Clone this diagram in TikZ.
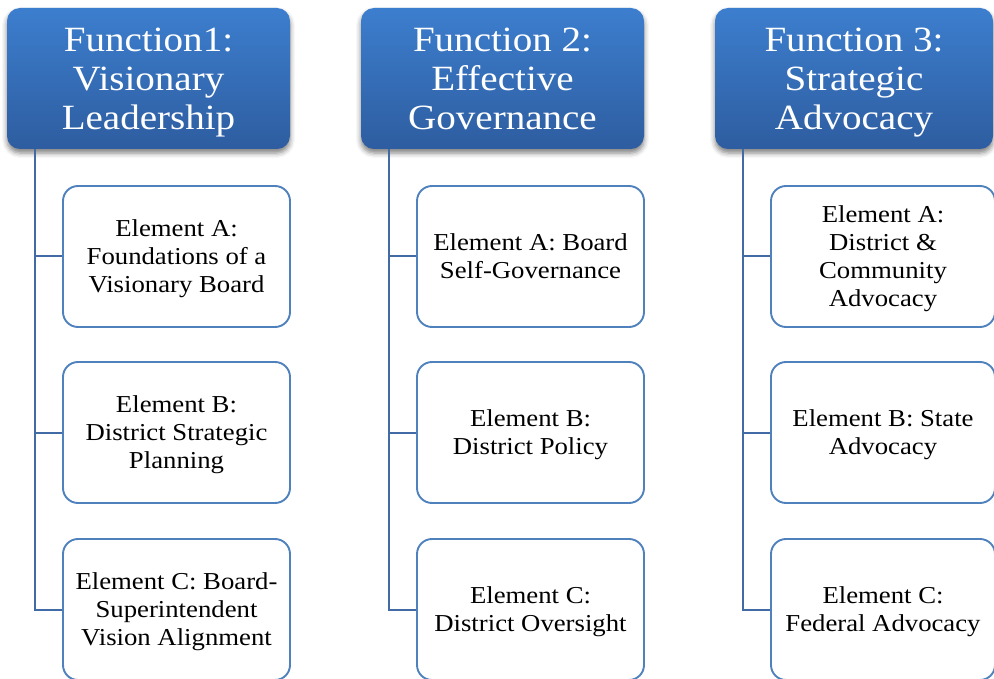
\documentclass[tikz,border=0pt]{standalone}
\usepackage{fontspec}
\setmainfont{Liberation Serif}[FakeStretch=1.1]
\usetikzlibrary{shadows.blur}

\definecolor{headtop}{RGB}{60,126,206}
\definecolor{headbot}{RGB}{46,93,160}
\definecolor{boxline}{RGB}{79,129,189}
\definecolor{connline}{RGB}{66,107,165}

% Fixed-height struts so every text block sits at the same level
\newcommand\headtopstrut{\rule{0pt}{35.5pt}}
\newcommand\elemtopstrut{\rule{0pt}{24pt}}

\tikzset{
  funchead/.style={rectangle, rounded corners=13pt, top color=headtop, bottom color=headbot,
    draw=none, minimum height=141pt, text=white, align=center, inner sep=2pt,
    font=\fontsize{35.5}{39}\selectfont,
    blur shadow={shadow xshift=0pt, shadow yshift=-4pt, shadow blur radius=5pt, shadow opacity=50}},
  elembox/.style={rectangle, rounded corners=15pt, draw=boxline, line width=1.9pt, fill=white,
    minimum height=141pt, text=black, align=center, inner sep=2pt,
    font=\fontsize{24.3}{28}\selectfont},
  conn/.style={draw=connline, line width=2pt}
}

\begin{document}
\begin{tikzpicture}[x=1pt, y=-1pt]
  \useasboundingbox (0,0) rectangle (994,679);
  \clip (0,0) rectangle (994,679);

  % Function headers
  \node[funchead, minimum width=283pt] (h1) at (148.5,78.5) {\headtopstrut Function1:\\Visionary\\Leadership\strut};
  \node[funchead, minimum width=283pt] (h2) at (502.5,78.5) {\headtopstrut Function 2:\\Effective\\Governance\strut};
  \node[funchead, minimum width=278pt] (h3) at (854,78.5) {\headtopstrut Function 3:\\Strategic\\Advocacy\strut};

  % Elements, column 1
  \node[elembox, minimum width=227pt] (a1) at (176.5,256.5) {\elemtopstrut Element A:\\Foundations of a\\Visionary Board\strut};
  \node[elembox, minimum width=227pt] (b1) at (176.5,432.5) {\elemtopstrut Element B:\\District Strategic\\Planning\strut};
  \node[elembox, minimum width=227pt] (c1) at (176.5,609.5) {\elemtopstrut Element C: Board-\\Superintendent\\Vision Alignment\strut};

  % Elements, column 2
  \node[elembox, minimum width=227pt] (a2) at (530.5,256.5) {\elemtopstrut Element A: Board\\Self-Governance\strut};
  \node[elembox, minimum width=227pt] (b2) at (530.5,432.5) {\elemtopstrut Element B:\\District Policy\strut};
  \node[elembox, minimum width=227pt] (c2) at (530.5,609.5) {\elemtopstrut Element C:\\District Oversight\strut};

  % Elements, column 3
  \node[elembox, minimum width=224pt] (a3) at (883,256.5) {\elemtopstrut Element A:\\District \&\\Community\\Advocacy\strut};
  \node[elembox, minimum width=224pt] (b3) at (883,432.5) {\elemtopstrut Element B: State\\Advocacy\strut};
  \node[elembox, minimum width=224pt] (c3) at (883,609.5) {\elemtopstrut Element C:\\Federal Advocacy\strut};

  % Connectors: a spine below each header with a branch to every element
  \foreach \h/\a/\b/\c in {h1/a1/b1/c1, h2/a2/b2/c2, h3/a3/b3/c3} {
    \coordinate (\h-spine) at ([xshift=28pt]\h.south west);
    \draw[conn] (\h-spine) |- (\c.west);
    \draw[conn] (\h-spine |- \a.west) -- (\a.west);
    \draw[conn] (\h-spine |- \b.west) -- (\b.west);
  }
\end{tikzpicture}
\end{document}
